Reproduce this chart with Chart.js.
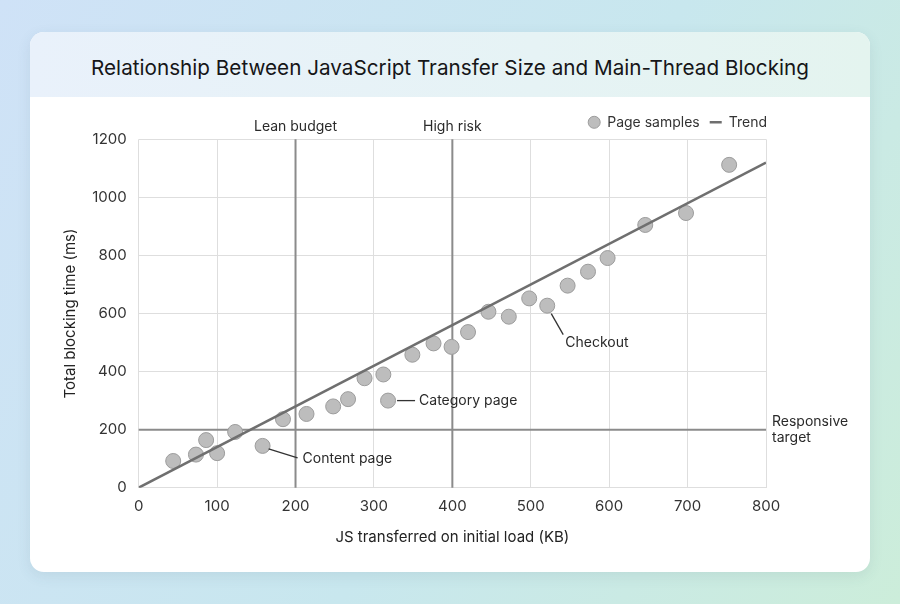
<!DOCTYPE html>
<html>
<head>
<meta charset="utf-8">
<script src="https://cdn.jsdelivr.net/npm/chart.js@4/dist/chart.umd.min.js"></script>
<style>
  html, body { margin: 0; padding: 0; }
  body {
    width: 900px; height: 604px; overflow: hidden; position: relative;
    background: linear-gradient(120deg, #cfe2f7 0%, #c8e7ee 55%, #ccedda 100%);
    font-family: Inter, "Noto Sans", sans-serif;
  }
  .card {
    position: absolute; left: 30px; top: 32px; width: 840px; height: 540px;
    background: #fff; border-radius: 14px; overflow: hidden;
    box-shadow: 0 4px 14px rgba(60, 90, 110, 0.10);
  }
  .header {
    position: absolute; left: 0; top: 0; width: 840px; height: 65px;
    background: linear-gradient(90deg, #e9f1fb 0%, #e6f3f5 60%, #e4f4ef 100%);
  }
  .header h1 {
    margin: 0; padding-top: 24px; line-height: 24px; text-align: center;
    font-size: 20.7px; font-weight: 400; color: #161618;
  }
  .plot { position: absolute; left: 0; top: 65px; width: 840px; height: 475px; }
</style>
</head>
<body>
<div class="card">
  <div class="header"><h1>Relationship Between JavaScript Transfer Size and Main-Thread Blocking</h1></div>
  <div class="plot"><canvas id="chart"></canvas></div>
</div>
<script>
// page samples: JS transferred (KB) vs total blocking time (ms)
const jsKb  = [44, 73, 86, 100, 123, 158, 184, 214, 248, 267, 288, 312, 318, 349, 376, 399, 420, 446, 472, 498, 521, 547, 573, 598, 646, 698, 753];
const tbtMs = [92, 114, 164, 119, 192, 144, 236, 254, 280, 305, 377, 390, 300, 458, 497, 485, 536, 606, 589, 652, 627, 696, 744, 791, 905, 946, 1112];

// fitted trend
const trendX = [0, 800];
const trendY = [0, 1120];

// thresholds
const budgetX = [200, 400];
const budgetNames = ['Lean budget', 'High risk'];
const targetY = 200;
const targetName = ['Responsive', 'target'];

// labelled samples (index into jsKb / tbtMs)
const calloutIdx = [5, 12, 20];
const calloutNames = ['Content page', 'Category page', 'Checkout'];

const xTicks = { min: 0, max: 800, step: 100 };
const yTicks = { min: 0, max: 1200, step: 200 };

Chart.defaults.font.family = 'Inter, "Noto Sans", sans-serif';
Chart.defaults.color = '#333';

const samples = jsKb.map((x, i) => ({ x: x, y: tbtMs[i] }));
const trend = trendX.map((x, i) => ({ x: x, y: trendY[i] }));

// leader line offsets (px) for each callout: line start, line end, text start
const calloutStyle = [
    { from: [6, 3], to: [35, 12], text: [40, 13] },
    { from: [9, 0], to: [27, 0], text: [31, 0] },
    { from: [4, 8], to: [16, 29], text: [18, 37] }
];

const markers = {
    id: 'markers',
    beforeDatasetsDraw(chart) {
        const { ctx, chartArea: a, scales: { x, y } } = chart;
        ctx.save();
        ctx.strokeStyle = '#8b8b8b';
        ctx.lineWidth = 2;
        budgetX.forEach(v => {
            const px = x.getPixelForValue(v);
            ctx.beginPath();
            ctx.moveTo(px, a.top);
            ctx.lineTo(px, a.bottom);
            ctx.stroke();
        });
        const py = y.getPixelForValue(targetY);
        ctx.beginPath();
        ctx.moveTo(a.left, py);
        ctx.lineTo(a.right, py);
        ctx.stroke();
        ctx.restore();
    },
    afterDatasetsDraw(chart) {
        const { ctx, chartArea: a, scales: { x, y } } = chart;
        ctx.save();
        ctx.font = '14px ' + Chart.defaults.font.family;
        ctx.fillStyle = '#2a2a2a';

        // threshold labels
        ctx.textAlign = 'center';
        ctx.textBaseline = 'middle';
        budgetX.forEach((v, i) => {
            ctx.fillText(budgetNames[i], x.getPixelForValue(v), a.top - 12.5);
        });
        ctx.textAlign = 'left';
        const py = y.getPixelForValue(targetY);
        ctx.fillText(targetName[0], a.right + 6, py - 8);
        ctx.fillText(targetName[1], a.right + 6, py + 8);

        // callouts
        ctx.strokeStyle = '#333';
        ctx.lineWidth = 1.3;
        calloutIdx.forEach((idx, i) => {
            const px = x.getPixelForValue(jsKb[idx]);
            const pt = y.getPixelForValue(tbtMs[idx]);
            const s = calloutStyle[i];
            ctx.beginPath();
            ctx.moveTo(px + s.from[0], pt + s.from[1]);
            ctx.lineTo(px + s.to[0], pt + s.to[1]);
            ctx.stroke();
            ctx.fillText(calloutNames[i], px + s.text[0], pt + s.text[1]);
        });
        ctx.restore();
    }
};

new Chart(document.getElementById('chart'), {
    type: 'scatter',
    data: {
        datasets: [{
            label: 'Page samples',
            data: samples,
            order: 1,
            backgroundColor: '#bdbdbd',
            borderColor: '#9c9c9c',
            borderWidth: 1,
            pointRadius: 7.5,
            pointHoverRadius: 7.5
        }, {
            type: 'line',
            label: 'Trend',
            data: trend,
            order: 0,
            showLine: true,
            borderColor: '#6f6f6f',
            backgroundColor: '#6f6f6f',
            borderWidth: 2.5,
            pointRadius: 0,
            pointStyle: 'line',
            fill: false
        }]
    },
    options: {
        responsive: true,
        maintainAspectRatio: false,
        animation: false,
        layout: { padding: { top: 8.3, left: 27, right: 93, bottom: 21.3 } },
        plugins: {
            title: { display: false },
            tooltip: { enabled: false },
            legend: {
                position: 'top',
                align: 'end',
                labels: {
                    usePointStyle: true,
                    boxWidth: 12,
                    boxHeight: 8.5,
                    padding: 10,
                    color: '#333',
                    font: { size: 14 },
                    sort: (a, b) => a.datasetIndex - b.datasetIndex
                }
            }
        },
        scales: {
            x: {
                type: 'linear',
                min: xTicks.min,
                max: xTicks.max,
                ticks: { stepSize: xTicks.step, padding: 10, color: '#333', font: { size: 15 }, callback: v => String(v) },
                grid: { color: '#dedede', drawTicks: false },
                border: { display: false },
                title: { display: true, text: 'JS transferred on initial load (KB)', color: '#222', font: { size: 15 } },
                afterFit: s => { s.height = 63; }
            },
            y: {
                min: yTicks.min,
                max: yTicks.max,
                ticks: { stepSize: yTicks.step, padding: 12, color: '#333', font: { size: 15 }, callback: v => String(v) },
                grid: { color: '#dedede', drawTicks: false },
                border: { display: false },
                title: { display: true, text: 'Total blocking time (ms)', color: '#222', font: { size: 15 } },
                afterFit: s => { s.width = 81.7; }
            },
            // keeps room on the right so the legend lines up with the plot edge
            yRight: {
                position: 'right',
                display: true,
                grid: { display: false },
                ticks: { display: false },
                border: { display: false },
                afterFit: s => { s.width = 11; }
            }
        }
    },
    plugins: [markers]
});
</script>
</body>
</html>
